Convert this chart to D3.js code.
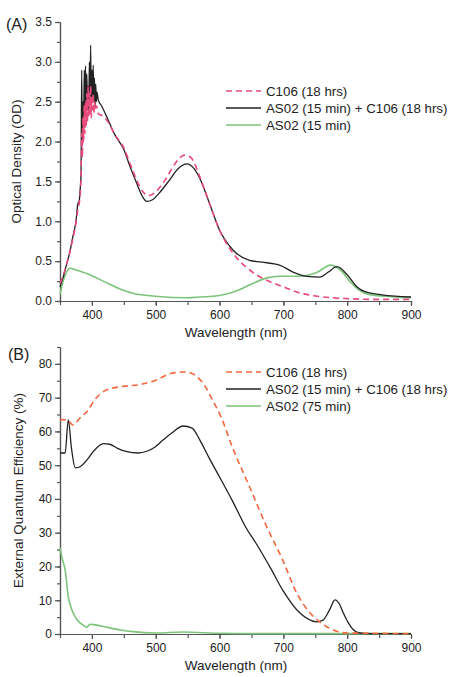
<!DOCTYPE html>
<html>
<head>
<meta charset="utf-8">
<script src="https://cdn.jsdelivr.net/npm/d3@7"></script>
<style>
  body { margin: 0; background: #fff; }
  svg text { font-family: "Liberation Sans", Arial, sans-serif; fill: #222; }
  .axis path, .axis line { stroke: #555; stroke-width: 1.2; }
  .axis text { font-size: 12px; fill: #222; }
</style>
</head>
<body>
<div id="chart"></div>
<script>
// panel A: optical density, [wavelength nm, OD]
let aC106 = [[350,0.22],[355,0.32],[360,0.45],[365,0.6],[370,0.78],[375,0.98],[378,1.15],[380,1.22],[382,1.38],[383,1.55],[384,2.1],[385,1.8],[386,2.3],[387,2.0],[388,2.45],[389,2.1],[390,2.5],[391,2.2],[392,2.6],[393,2.25],[394,2.7],[395,2.3],[396,2.6],[397,2.35],[398,2.7],[399,2.3],[400,2.55],[401,2.4],[402,2.6],[403,2.35],[404,2.5],[405,2.4],[407,2.45],[410,2.35],[415,2.33],[425,2.25],[435,2.1],[450,1.92],[460,1.72],[470,1.52],[480,1.37],[488,1.32],[500,1.37],[515,1.52],[530,1.72],[545,1.83],[555,1.8],[569,1.56],[584,1.23],[600,0.89],[621,0.6],[647,0.39],[674,0.26],[699,0.18],[726,0.1],[753,0.06],[800,0.03],[850,0.02],[900,0.02]]
let aMix = [[350,0.18],[355,0.3],[360,0.45],[365,0.6],[370,0.8],[375,1.0],[378,1.22],[380,1.25],[382,1.45],[383,1.6],[384,2.9],[385,1.95],[386,2.5],[387,2.2],[388,2.9],[389,2.4],[390,2.95],[391,2.3],[392,2.85],[393,2.5],[394,2.7],[395,2.35],[396,3.0],[397,2.5],[398,3.21],[399,2.45],[400,2.9],[401,2.55],[402,2.96],[403,2.5],[404,2.8],[405,2.45],[406,2.72],[407,2.5],[408,2.62],[410,2.52],[415,2.45],[425,2.28],[435,2.1],[450,1.9],[460,1.68],[470,1.48],[480,1.3],[486,1.25],[495,1.27],[505,1.35],[520,1.5],[535,1.66],[549,1.72],[560,1.66],[569,1.54],[584,1.23],[600,0.89],[621,0.64],[647,0.51],[674,0.48],[694,0.45],[716,0.36],[737,0.31],[757,0.3],[770,0.36],[784,0.43],[800,0.33],[815,0.18],[830,0.11],[852,0.08],[875,0.06],[900,0.05]]
let aAS02 = [[350,0.08],[355,0.25],[360,0.36],[366,0.41],[375,0.39],[394,0.34],[420,0.24],[447,0.14],[467,0.09],[499,0.06],[550,0.04],[569,0.05],[600,0.07],[621,0.11],[647,0.2],[674,0.29],[694,0.31],[726,0.31],[753,0.36],[774,0.45],[789,0.39],[805,0.24],[818,0.14],[835,0.08],[860,0.06],[900,0.04]]

// panel B: external quantum efficiency, [wavelength nm, %]
let bC106 = [[350,63.5],[362,63.4],[370,61.9],[381,63.9],[392,65.8],[405,69.5],[421,72.1],[447,73.3],[473,73.8],[499,75.1],[525,77.2],[545,77.6],[555,77.3],[567,75.8],[577,73.5],[589,69.3],[603,64],[620,55.4],[647,43.6],[674,31.7],[699,21.9],[721,12.1],[742,6.2],[757,3.6],[778,1.2],[800,0.3],[850,0.2],[900,0.1]]
let bMix = [[350,53.6],[358,53.6],[363,63.4],[368,55],[374,49.2],[382,49.6],[392,51.5],[402,54],[418,56.4],[428,56.2],[440,55],[455,54],[472,53.6],[487,54.2],[499,55.4],[512,57.5],[525,59.5],[543,61.6],[557,61],[569,57.5],[584,52],[600,46.5],[620,39.5],[640,32],[660,26],[680,19.5],[699,13],[726,6.2],[753,3.6],[762,4.1],[772,7],[781,10.1],[788,8.8],[794,6.2],[802,3.2],[810,1.2],[820,0.3],[840,0.1],[900,0.1]]
let bAS02 = [[350,25.5],[354,22],[358,19],[363,11],[368,7.5],[374,5],[380,3.5],[386,2.7],[392,2],[397,2.9],[405,2.7],[423,2],[445,1.2],[464,0.7],[500,0.3],[543,0.6],[600,0.2],[650,0.1],[900,0.1]]

let xTicks = [400, 500, 600, 700, 800, 900]
let aTicks = [0, 0.5, 1, 1.5, 2, 2.5, 3, 3.5]
let bTicks = [0, 10, 20, 30, 40, 50, 60, 70, 80]

let legendA = ['C106 (18 hrs)', 'AS02 (15 min) + C106 (18 hrs)', 'AS02 (15 min)']
let legendB = ['C106 (18 hrs)', 'AS02 (15 min) + C106 (18 hrs)', 'AS02 (75 min)']

let width = 452
let height = 677

let svg = d3.select('#chart')
  .append('svg')
    .attr('width', width)
    .attr('height', height)

function panel(opts) {
  let x = d3.scaleLinear().domain([350, 900]).range([60, 411])
  let y = d3.scaleLinear().domain(opts.domain).range(opts.range)

  let g = svg.append('g')

  // minor ticks first, labelled ticks on top
  g.append('g').attr('class', 'axis')
    .attr('transform', `translate(0,${opts.range[0]})`)
    .call(d3.axisBottom(x).tickValues(d3.range(350, 901, 50)).tickSize(4).tickFormat('').tickSizeOuter(0))
  g.append('g').attr('class', 'axis')
    .attr('transform', `translate(0,${opts.range[0]})`)
    .call(d3.axisBottom(x).tickValues(xTicks).tickSize(5).tickPadding(4).tickSizeOuter(0))
  g.append('g').attr('class', 'axis')
    .attr('transform', 'translate(60,0)')
    .call(d3.axisLeft(y).tickValues(d3.range(0, opts.domain[1] + 1e-9, opts.minor)).tickSize(3).tickFormat('').tickSizeOuter(0))
  g.append('g').attr('class', 'axis')
    .attr('transform', 'translate(60,0)')
    .call(d3.axisLeft(y).tickValues(opts.ticks).tickSize(5).tickPadding(3).tickFormat(opts.fmt).tickSizeOuter(0))

  let line = d3.line()
    .x(d => x(d[0]))
    .y(d => y(d[1]))
    .curve(d3.curveMonotoneX)

  let series = [
    {data: opts.green, color: '#7cc47a', width: 1.6, dash: null},
    {data: opts.mix, color: '#222', width: 1.3, dash: null},
    {data: opts.c106, color: opts.red, width: 1.6, dash: '6,4'}
  ]
  series.forEach(s => {
    g.append('path')
      .datum(s.data)
      .attr('d', line)
      .attr('fill', 'none')
      .attr('stroke', s.color)
      .attr('stroke-width', s.width)
      .attr('stroke-dasharray', s.dash)
  })

  // legend
  let leg = [
    {color: opts.red, dash: '6,4', w: 1.6},
    {color: '#222', dash: null, w: 1.3},
    {color: '#7cc47a', dash: null, w: 1.6}
  ]
  leg.forEach((l, i) => {
    let ly = opts.legendY + i * 17
    g.append('line')
      .attr('x1', 226).attr('x2', 261)
      .attr('y1', ly).attr('y2', ly)
      .attr('stroke', l.color)
      .attr('stroke-width', l.w)
      .attr('stroke-dasharray', l.dash)
    g.append('text')
      .attr('x', 266).attr('y', ly + 4.5)
      .style('font-size', '13.3px')
      .text(opts.legend[i])
  })

  g.append('text')
    .attr('x', 236).attr('y', opts.range[0] + 36)
    .attr('text-anchor', 'middle')
    .style('font-size', '13.5px')
    .text('Wavelength (nm)')

  g.append('text')
    .attr('transform', `translate(${opts.titleX},${(opts.range[0] + opts.range[1]) / 2}) rotate(-90)`)
    .attr('text-anchor', 'middle')
    .style('font-size', '13.5px')
    .text(opts.title)

  g.append('text')
    .attr('x', opts.tagX).attr('y', opts.tagY)
    .style('font-size', '16px')
    .text(opts.tag)
}

panel({
  domain: [0, 3.5], range: [301, 22], ticks: aTicks, minor: 0.25, fmt: d3.format('.1f'),
  c106: aC106, mix: aMix, green: aAS02, red: '#e84a7c',
  legend: legendA, legendY: 91, title: 'Optical Density (OD)', titleX: 21,
  tag: '(A)', tagX: 6, tagY: 30
})

panel({
  domain: [0, 85], range: [634, 347], ticks: bTicks, minor: 5, fmt: d3.format('d'),
  c106: bC106, mix: bMix, green: bAS02, red: '#f2663c',
  legend: legendB, legendY: 372, title: 'External Quantum Efficiency  (%)', titleX: 23,
  tag: '(B)', tagX: 8, tagY: 360
})
</script>
</body>
</html>
